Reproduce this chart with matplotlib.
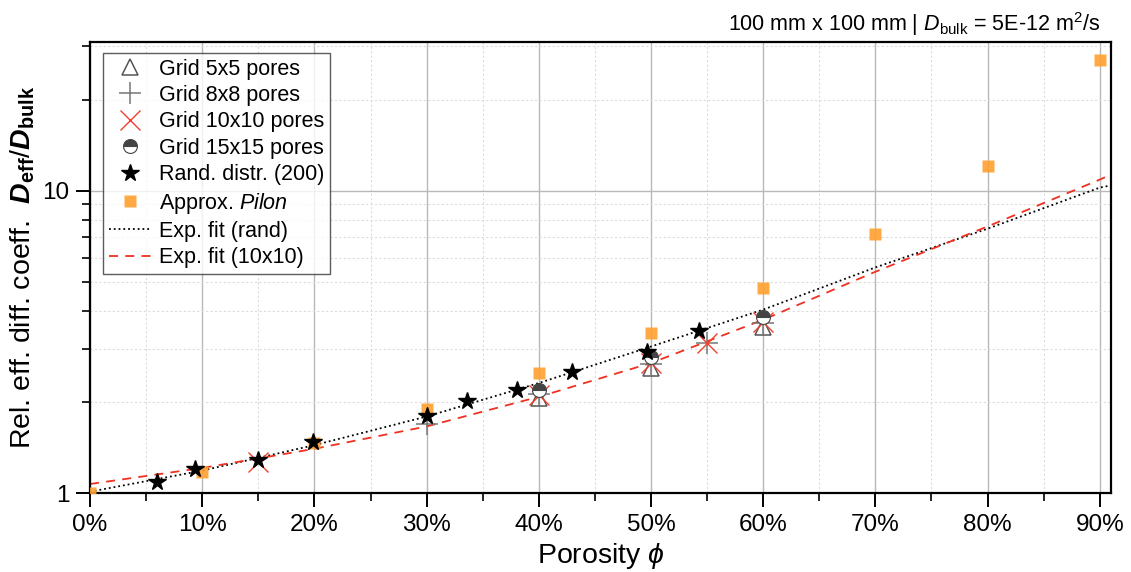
import numpy as np
import matplotlib
matplotlib.use("Agg")
import matplotlib.pyplot as plt
from matplotlib.ticker import FixedLocator, FuncFormatter, NullFormatter

plt.rcParams["font.family"] = ["Liberation Sans", "DejaVu Sans"]
plt.rcParams["mathtext.fontset"] = "custom"
plt.rcParams["mathtext.rm"] = "Liberation Sans"
plt.rcParams["mathtext.it"] = "Liberation Sans:italic"
plt.rcParams["mathtext.bf"] = "Liberation Sans:bold"
plt.rcParams["mathtext.bfit"] = "Liberation Sans:bold:italic"

# ---- data (porosity as fraction, D_eff / D_bulk) ----
grid5_phi = [0.40, 0.50, 0.60]
grid5_val = [2.06, 2.59, 3.55]

grid8_phi = [0.30, 0.40, 0.50, 0.55, 0.60]
grid8_val = [1.69, 2.12, 2.68, 3.14, 3.66]

grid10_phi = [0.15, 0.40, 0.50, 0.55, 0.60]
grid10_val = [1.27, 2.11, 2.69, 3.14, 3.68]

grid15_phi = [0.40, 0.50, 0.60]
grid15_val = [2.19, 2.82, 3.83]

rand_phi = [0.06, 0.094, 0.15, 0.199, 0.30, 0.336, 0.381, 0.43, 0.496, 0.543]
rand_val = [1.087, 1.20, 1.286, 1.475, 1.80, 2.016, 2.19, 2.52, 2.93, 3.44]

pilon_phi = [0.0, 0.1, 0.2, 0.3, 0.4, 0.5, 0.6, 0.7, 0.8, 0.9]
pilon_val = [1.0, 1.17, 1.46, 1.90, 2.49, 3.39, 4.77, 7.2, 12.1, 27.0]

# fit curves
fit_phi = [0.0, 0.1, 0.2, 0.3, 0.4, 0.5, 0.6, 0.7, 0.8, 0.9, 0.91]
fit_rand_val = [1.01, 1.186, 1.44, 1.79, 2.31, 3.05, 4.04, 5.57, 7.48, 10.23, 10.4]
fit_10_val = [1.071, 1.21, 1.40, 1.66, 2.08, 2.69, 3.74, 5.39, 7.61, 10.87, 11.3]

fig = plt.figure(figsize=(11.31, 5.72), dpi=100)
ax = fig.add_axes([0.0796, 0.1381, 0.9027, 0.7885])

h_fit_rand, = ax.plot(fit_phi, fit_rand_val, ":", color="black", lw=1.3,
                      label="Exp. fit (rand)", zorder=2.5)
h_fit_10, = ax.plot(fit_phi, fit_10_val, "--", color="#f03020", lw=1.3,
                    dashes=(5, 4), label="Exp. fit (10x10)", zorder=2.5)

h5, = ax.plot(grid5_phi, grid5_val, ls="none", marker="^", ms=11,
              mfc="none", mec="#555555", mew=1.1, label="Grid 5x5 pores", zorder=3)
h8, = ax.plot(grid8_phi, grid8_val, ls="none", marker="+", ms=16,
              mec="#777777", mew=1.1, label="Grid 8x8 pores", zorder=3)
h10, = ax.plot(grid10_phi, grid10_val, ls="none", marker="x", ms=15,
               mec="#f04030", mew=1.0, label="Grid 10x10 pores", zorder=3)
h15, = ax.plot(grid15_phi, grid15_val, ls="none", marker="o", ms=10,
               fillstyle="top", mfc="#444444", mfcalt="white", mec="#444444",
               mew=0.8, label="Grid 15x15 pores", zorder=3)
hp, = ax.plot(pilon_phi, pilon_val, ls="none", marker="s", ms=9,
              mfc="#ffa030", mec="none", alpha=0.9, label="Approx. $\\it{Pilon}$",
              zorder=3.5)
hr, = ax.plot(rand_phi, rand_val, ls="none", marker="*", ms=13,
              mfc="black", mec="black", label="Rand. distr. (200)", zorder=4)

ax.set_yscale("log")
ax.set_xlim(0, 0.91)
ax.set_ylim(1, 31)

ax.xaxis.set_major_locator(FixedLocator(np.arange(0, 0.95, 0.1)))
ax.xaxis.set_minor_locator(FixedLocator(np.arange(0.05, 0.95, 0.1)))
ax.xaxis.set_major_formatter(FuncFormatter(lambda v, p: f"{v * 100:.0f}%"))
ax.yaxis.set_major_locator(FixedLocator([1, 10]))
ax.yaxis.set_minor_locator(FixedLocator([2, 3, 4, 5, 6, 7, 8, 9, 20, 30]))
ax.yaxis.set_major_formatter(FuncFormatter(lambda v, p: f"{v:.0f}"))
ax.yaxis.set_minor_formatter(NullFormatter())

ax.tick_params(which="major", direction="out", length=10, width=1.4, labelsize=17.5,
               pad=5)
ax.tick_params(which="minor", direction="out", length=6, width=1.2)
ax.tick_params(axis="x", which="both", top=False)
ax.tick_params(axis="y", which="both", right=False)

ax.grid(True, which="major", color="#b8b8b8", lw=1.0)
ax.grid(True, which="minor", color="#dcdcdc", lw=0.8, ls=(0, (2, 2)))
ax.set_axisbelow(True)

for s in ax.spines.values():
    s.set_linewidth(1.6)

ax.set_xlabel("Porosity $\\phi$", fontsize=20.5, labelpad=4)
ax.set_ylabel("Rel. eff. diff. coeff.  $\\mathbfit{D}_{\\mathbf{eff}}/\\mathbfit{D}_{\\mathbf{bulk}}$",
              fontsize=20.5, labelpad=4)
fig.text(0.973, 0.958, "100 mm x 100 mm | $\\mathit{D}_{\\mathrm{bulk}}$ = 5E-12 m$^{2}$/s",
         ha="right", va="center", fontsize=15.5)

leg = ax.legend(handles=[h5, h8, h10, h15, hr, hp, h_fit_rand, h_fit_10],
                loc="upper left", bbox_to_anchor=(0.013, 0.975), fontsize=15.5,
                frameon=True, fancybox=False, edgecolor="#333333",
                handlelength=2.0, handletextpad=0.35, labelspacing=0.25,
                borderpad=0.25, borderaxespad=0.0)
leg.get_frame().set_linewidth(1.0)

fig.savefig("out.png", dpi=100)
